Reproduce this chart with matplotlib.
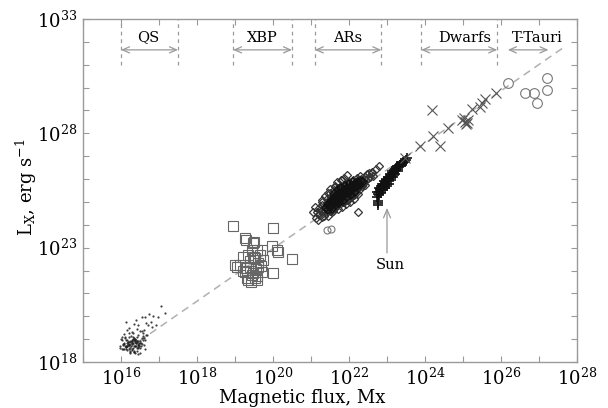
import numpy as np
import matplotlib
matplotlib.use('Agg')
import matplotlib.pyplot as plt

plt.rcParams['font.family'] = ['DejaVu Serif']
plt.rcParams['mathtext.fontset'] = 'dejavuserif'

# log10 values: (magnetic flux [Mx], L_X [erg/s])

# quiet sun
qs_x = [16.32, 16.18, 16.45, 16.10, 16.40, 16.25, 16.52, 16.05, 16.36, 16.22,
        16.48, 16.15, 16.56, 16.28, 16.02, 16.42, 16.12, 16.58, 16.30, 16.38,
        16.08, 16.50, 16.20, 16.44, 16.34, 16.14, 16.60, 16.26, 16.04, 16.46,
        16.16, 16.54, 16.24, 16.62, 16.36, 16.00, 16.50, 16.31, 16.19, 16.43,
        16.07, 16.57, 16.13, 16.47, 16.29, 16.39, 16.11, 16.53, 16.35, 16.21,
        16.03, 16.61, 16.17, 16.49, 15.98, 16.64, 16.09, 16.66, 16.33, 16.41,
        16.10, 16.55, 16.05, 16.58, 16.15, 16.62, 16.08, 16.66, 16.45, 16.70,
        16.02, 16.74, 16.20, 16.78, 16.55, 16.85, 16.60, 16.92, 16.40, 16.98,
        16.25, 17.05, 16.50, 17.15, 15.98, 16.35, 16.68, 16.12, 16.82, 16.46,
        16.30, 16.36, 16.22, 16.42, 16.27, 16.34, 16.18, 16.40, 16.32, 16.24,
        16.46, 16.28, 16.37, 16.15, 16.44, 16.31, 16.20, 16.39, 16.33, 16.26,
        16.12, 16.35, 16.48, 16.23, 16.41, 16.29, 16.36, 16.17, 16.43, 16.30,
        16.21, 16.50, 16.32, 16.25, 16.38, 16.14, 16.45, 16.28, 16.34, 16.19]
qs_y = [18.83, 18.75, 18.90, 18.70, 18.95, 18.62, 18.85, 18.78, 19.02, 18.88,
        18.70, 18.98, 18.80, 18.92, 18.55, 19.08, 18.65, 18.97, 18.82, 18.72,
        18.85, 18.90, 19.10, 18.60, 18.50, 18.98, 18.75, 19.15, 18.58, 19.20,
        18.70, 19.05, 18.45, 18.95, 18.40, 19.00, 18.62, 19.25, 18.88, 18.48,
        18.80, 19.12, 18.55, 18.85, 19.32, 18.68, 19.10, 18.70, 18.45, 19.28,
        18.95, 19.05, 18.52, 19.35, 18.68, 18.58, 19.22, 19.18, 18.42, 19.45,
        19.05, 19.35, 18.75, 19.25, 19.40, 19.95, 18.55, 19.70, 19.60, 19.62,
        19.10, 20.10, 19.50, 19.75, 19.95, 20.00, 19.40, 19.60, 19.85, 19.95,
        18.38, 20.45, 18.40, 20.15, 18.60, 19.65, 19.20, 19.75, 19.55, 18.35,
        18.80, 18.86, 18.74, 18.90, 18.68, 18.95, 18.78, 18.84, 18.60, 18.92,
        18.76, 18.98, 18.72, 18.85, 18.66, 19.02, 18.58, 18.82, 18.70, 18.88,
        18.64, 19.05, 18.74, 18.80, 18.86, 18.52, 18.94, 18.70, 18.62, 18.90,
        18.75, 18.82, 19.10, 18.50, 18.98, 18.68, 18.78, 18.56, 19.00, 18.88]

# X-ray bright points
xbp_x = [18.95, 20.00, 19.29, 19.50, 19.97, 20.13, 20.50, 20.00, 19.39, 19.34,
         19.58, 19.05, 19.74, 19.58, 19.26, 19.47, 19.45, 19.71, 20.11, 19.21,
         19.53, 19.13, 19.61, 19.00, 19.26, 19.47, 19.71, 19.32, 19.53, 19.40,
         19.55, 19.35, 19.60, 19.45, 19.30, 19.50, 19.65, 19.42, 19.58, 19.20,
         19.68]
xbp_y = [23.95, 23.86, 23.34, 23.25, 23.07, 22.81, 22.51, 21.89, 22.16, 21.59,
         21.59, 22.16, 22.46, 22.90, 23.42, 23.21, 22.90, 22.90, 22.90, 22.59,
         22.55, 22.24, 22.16, 22.24, 21.94, 21.89, 21.94, 21.67, 21.67, 22.40,
         22.05, 22.70, 22.35, 21.80, 22.10, 22.60, 22.70, 21.50, 21.75, 22.00,
         22.20]

# active regions
ar_x = [21.12, 21.15, 21.18, 21.20, 21.22, 21.26, 21.28, 21.30, 21.31, 21.33,
        21.34, 21.29, 21.37, 21.39, 21.40, 21.42, 21.41, 21.43, 21.44, 21.38,
        21.45, 21.47, 21.48, 21.50, 21.51, 21.52, 21.53, 21.49, 21.55, 21.54,
        21.56, 21.50, 21.57, 21.58, 21.59, 21.60, 21.61, 21.62, 21.63, 21.60,
        21.64, 21.65, 21.66, 21.62, 21.58, 21.67, 21.68, 21.69, 21.70, 21.71,
        21.72, 21.73, 21.70, 21.74, 21.75, 21.72, 21.68, 21.76, 21.71, 21.77,
        21.78, 21.79, 21.80, 21.81, 21.82, 21.83, 21.80, 21.84, 21.85, 21.82,
        21.78, 21.86, 21.81, 21.87, 21.88, 21.89, 21.90, 21.91, 21.92, 21.93,
        21.90, 21.94, 21.95, 21.92, 21.88, 21.96, 21.91, 21.97, 21.98, 21.99,
        22.00, 22.01, 22.02, 22.03, 22.00, 22.04, 22.05, 22.02, 22.06, 22.01,
        22.07, 22.08, 22.09, 22.10, 22.11, 22.12, 22.13, 22.10, 22.14, 22.15,
        22.12, 22.16, 22.17, 22.18, 22.19, 22.20, 22.21, 22.22, 22.23, 22.20,
        22.24, 22.25, 22.27, 22.28, 22.30, 22.31, 22.32, 22.33, 22.35, 22.30,
        22.37, 22.40, 22.42, 22.43, 22.45, 22.47, 22.50, 22.53, 22.56, 22.60,
        22.63, 21.10, 21.29, 21.45, 21.63, 21.82, 21.95, 22.60, 22.72, 22.78,
        22.24, 21.05]
ar_y = [24.30, 24.55, 24.20, 24.75, 24.45, 24.60, 24.35, 24.85, 24.50, 24.70,
        24.40, 25.00, 24.62, 24.80, 24.50, 24.95, 25.15, 24.70, 24.40, 25.25,
        24.85, 24.75, 25.00, 24.60, 24.90, 25.20, 24.80, 25.40, 25.05, 24.55,
        24.95, 25.55, 24.85, 25.10, 24.70, 25.00, 25.25, 24.90, 25.15, 25.50,
        24.75, 25.05, 25.35, 25.70, 24.60, 25.00, 25.20, 24.85, 25.10, 25.35,
        24.95, 25.25, 25.60, 25.05, 25.45, 24.70, 25.85, 25.15, 25.00, 25.05,
        25.30, 24.95, 25.20, 25.45, 25.10, 25.35, 25.70, 25.00, 25.55, 24.80,
        25.95, 25.25, 25.15, 25.15, 25.40, 25.05, 25.30, 25.55, 25.20, 25.45,
        25.80, 25.10, 25.65, 24.90, 26.05, 25.35, 25.25, 25.25, 25.50, 25.15,
        25.40, 25.65, 25.30, 25.55, 25.85, 25.20, 25.75, 25.00, 25.45, 25.35,
        25.35, 25.60, 25.25, 25.50, 25.75, 25.40, 25.65, 25.95, 25.30, 25.85,
        25.15, 25.55, 25.50, 25.70, 25.40, 25.60, 25.85, 25.55, 25.75, 26.05,
        25.35, 25.95, 25.65, 25.85, 25.55, 25.75, 26.00, 25.70, 25.90, 26.15,
        25.80, 26.00, 25.75, 26.10, 25.95, 26.20, 26.05, 26.25, 26.10, 26.30,
        26.15, 24.78, 25.09, 25.39, 25.65, 25.96, 26.18, 26.27, 26.45, 26.55,
        24.56, 24.56]
# dense core of the active-region cloud
arc_x = [21.40, 21.44, 21.46, 21.48, 21.50, 21.52, 21.54, 21.56, 21.58, 21.60,
         21.62, 21.64, 21.66, 21.68, 21.70, 21.72, 21.74, 21.76, 21.78, 21.80,
         21.82, 21.84, 21.86, 21.88, 21.90, 21.92, 21.94, 21.96, 21.98, 22.00,
         22.02, 22.04, 22.06, 22.08, 22.10, 22.12, 22.14, 22.16, 22.18, 22.20,
         22.22, 22.25, 22.28, 22.32, 22.36, 21.55, 21.65, 21.75, 21.85, 21.95,
         22.05, 22.15, 21.60, 21.70, 21.80, 21.90, 22.00, 22.10]
arc_y = [24.75, 24.85, 24.65, 24.90, 24.80, 25.00, 24.85, 25.10, 24.95, 25.15,
         25.05, 25.20, 25.00, 25.30, 25.15, 25.35, 25.20, 25.40, 25.15, 25.35,
         25.25, 25.45, 25.30, 25.50, 25.35, 25.55, 25.40, 25.60, 25.45, 25.55,
         25.45, 25.65, 25.50, 25.70, 25.60, 25.75, 25.60, 25.80, 25.65, 25.80,
         25.70, 25.85, 25.75, 25.90, 25.85, 24.70, 24.85, 24.95, 25.05, 25.20,
         25.30, 25.45, 25.35, 25.50, 25.60, 25.70, 25.80, 25.85]
ar2_x = [21.42, 21.52]
ar2_y = [23.77, 23.80]

# Sun as a star
sun_x = [22.74, 22.75, 22.76, 22.77, 22.78, 22.80, 22.81, 22.83, 22.84, 22.86,
         22.88, 22.89, 22.91, 22.93, 22.94, 22.96, 22.98, 22.99, 23.01, 23.03,
         23.04, 23.06, 23.08, 23.10, 23.12, 23.14, 23.16, 23.18, 23.20, 23.22,
         23.25, 23.27, 23.30, 23.33, 23.36, 23.40, 23.44, 23.48, 23.52, 22.76,
         22.77, 22.78, 22.82, 22.86, 22.90, 22.95, 23.00, 23.05, 23.10, 23.15,
         23.20, 23.25, 23.30, 23.35, 23.42, 23.50]
sun_y = [25.20, 25.45, 25.05, 25.35, 25.60, 25.30, 25.50, 25.70, 25.40, 25.60,
         25.80, 25.50, 25.70, 25.90, 25.60, 25.80, 26.00, 25.70, 25.90, 26.10,
         25.80, 26.00, 26.20, 25.95, 26.15, 26.35, 26.10, 26.30, 26.45, 26.20,
         26.40, 26.55, 26.35, 26.55, 26.70, 26.60, 26.80, 26.75, 26.90, 24.95,
         24.85, 25.45, 25.55, 25.70, 25.75, 25.85, 25.95, 26.05, 26.15, 26.25,
         26.35, 26.50, 26.55, 26.60, 26.72, 26.85]

# G, K, M dwarfs
dw_x = [23.47, 23.87, 24.18, 24.22, 24.39, 24.61, 24.97, 25.05, 25.10, 25.02,
        25.12, 25.07, 25.23, 25.45, 25.49, 25.58, 25.88]
dw_y = [26.92, 27.45, 29.02, 27.88, 27.45, 28.22, 28.58, 28.50, 28.45, 28.65,
        28.60, 28.40, 29.05, 29.17, 29.31, 29.49, 29.78]

# T Tauri stars
tt_x = [26.19, 26.63, 26.87, 26.94, 27.20, 27.22]
tt_y = [30.21, 29.75, 29.78, 29.31, 29.90, 30.41]

# fit L_X ~ flux^1.15
fit_x = [16.2, 27.63]
fit_slope = 1.15
fit_icpt = -0.04

# header ranges: (label, start, end, label x)
ranges = [('QS', 16.0, 17.5, 16.72),
          ('XBP', 18.95, 20.5, 19.72),
          ('ARs', 21.1, 22.85, 21.97),
          ('Dwarfs', 23.9, 25.9, 25.05),
          ('T-Tauri', 26.18, 27.25, 26.95)]
dashed_at = [16.0, 17.5, 18.95, 20.5, 21.1, 22.85, 23.9, 25.9]

gray = '#9a9a9a'

fig = plt.figure(figsize=(6.08, 4.08), dpi=100)
ax = fig.add_axes([83/608, 46/408, 494/608, 343/408])

p = lambda v: 10.0**np.array(v)

ax.plot(p(fit_x), p(fit_slope*np.array(fit_x) + fit_icpt), ls=(0, (5, 3.5)),
        color='#b0b0b0', lw=1.1, zorder=1)

ax.plot(p(qs_x), p(qs_y), ls='none', marker='.', ms=3.2, color='#222222',
        mew=0, alpha=0.85)
ax.plot(p(xbp_x), p(xbp_y), ls='none', marker='s', ms=6.5, mfc='none',
        mec='#666666', mew=0.8)
ax.plot(p(ar_x), p(ar_y), ls='none', marker='D', ms=4.5, mfc='none',
        mec='#333333', mew=0.9)
ax.plot(p(arc_x), p(arc_y), ls='none', marker='D', ms=4.5, mfc='none',
        mec='#111111', mew=1.1)
ax.plot(p(ar2_x), p(ar2_y), ls='none', marker='o', ms=5, mfc='none',
        mec='#777777', mew=0.8)
ax.plot(p(sun_x), p(sun_y), ls='none', marker='+', ms=6.5, color='#111111',
        mew=1.2)
ax.plot(p(dw_x), p(dw_y), ls='none', marker='x', ms=6.5, color='#555555',
        mew=0.8)
ax.plot(p(tt_x), p(tt_y), ls='none', marker='o', ms=7, mfc='none',
        mec='#777777', mew=0.8)

ax.set_xscale('log')
ax.set_yscale('log')
ax.set_xlim(1e15, 1e28)
ax.set_ylim(1e18, 1e33)

xt = list(range(15, 29))
yt = list(range(18, 34))
ax.set_xticks([10.0**k for k in xt])
ax.set_xticklabels([r'10$^{%d}$' % k if k % 2 == 0 else '' for k in xt])
ax.set_yticks([10.0**k for k in yt])
ax.set_yticklabels([r'10$^{%d}$' % k if (k - 18) % 5 == 0 else '' for k in yt])
ax.minorticks_off()
ax.tick_params(which='both', direction='in', length=4, width=0.8, color=gray,
               top=True, right=True, labelsize=13, pad=4)
for s in ax.spines.values():
    s.set_color(gray)
    s.set_linewidth(1.0)

# header with ranges
tr = ax.get_xaxis_transform()
for x0 in dashed_at:
    ax.plot([10**x0, 10**x0], [0.866, 1.0], transform=tr, color=gray,
            lw=0.9, ls=(0, (3, 3)), clip_on=False)
for name, a, b, lx in ranges:
    ax.annotate('', xy=(10**a, 0.91), xytext=(10**b, 0.91), xycoords=tr,
                textcoords=tr,
                arrowprops=dict(arrowstyle='<->,head_length=0.5,head_width=0.22',
                                color=gray, lw=0.9, shrinkA=0, shrinkB=0))
    ax.text(10**lx, 0.946, name, transform=tr, ha='center', va='center',
            fontsize=10.5)

# Sun pointer
ax.annotate('', xy=(10**23.0, 10**24.74), xytext=(10**23.0, 10**22.77),
            arrowprops=dict(arrowstyle='->,head_length=0.6,head_width=0.25',
                            color=gray, lw=0.9, shrinkA=0, shrinkB=0))
ax.text(10**23.08, 10**22.24, 'Sun', ha='center', va='center', fontsize=10.5)

fig.text(302/608, 1 - 398/408, 'Magnetic flux, Mx', ha='center', va='center',
         fontsize=13)
fig.text(26/608, 1 - 187/408, r'L$_\mathrm{X}$, erg s$^{-1}$', ha='center',
         va='center', rotation=90, fontsize=13)

fig.savefig('out.png', dpi=100)
